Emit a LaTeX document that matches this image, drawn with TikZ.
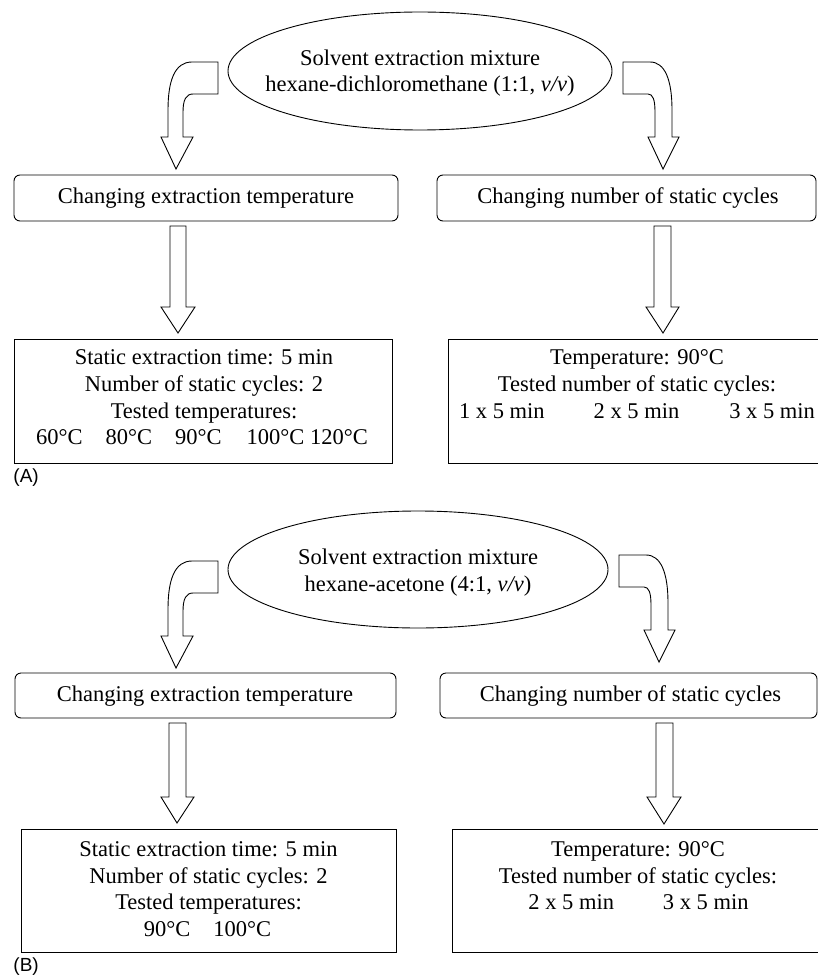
\documentclass[tikz,border=0pt]{standalone}
\usepackage{fontspec}
\setmainfont{Liberation Serif}
\newfontfamily\labelfont{Liberation Sans}
\usetikzlibrary{shapes.geometric}
\begin{document}
\begin{tikzpicture}[x=1pt,y=-1pt,line width=0.9pt,
  every node/.style={font=\fontsize{22.5}{26.7}\selectfont,inner sep=0pt},
  ell/.style={ellipse,draw,align=center},
  rbox/.style={draw,rounded corners=6pt},
  sbox/.style={draw},
  txtline/.style={anchor=base},
  panel/.style={anchor=base west,font=\labelfont\fontsize{19}{22}\selectfont},
  barrow/.style={draw,line join=miter,fill=white}]
\useasboundingbox (0,0) rectangle (817,976);

% ---------------- Panel A ----------------
\node[ell,minimum width=384,minimum height=118] (ea) at (420,71) {};
\node[txtline] (ea1) at (420,66) {Solvent extraction mixture};
\node[txtline] (ea2) at (420,92) {hexane-dichloromethane (1:1, \textit{v/v})};

% curved arrows
\draw[barrow] (218,62) -- (192,62) .. controls (175,62) and (168,80) .. (168,110) -- (168,137)
  -- (161,137) -- (176,169) -- (193,137) -- (183,137) -- (183,112)
  .. controls (183,100) and (186,94) .. (193,94) -- (218,94) -- cycle;
\draw[barrow] (623,62) -- (650,62) .. controls (665,62) and (672,80) .. (672,110) -- (672,137)
  -- (679,137) -- (663,169) -- (648,137) -- (655,137) -- (655,112)
  .. controls (655,100) and (653,94) .. (648,94) -- (623,94) -- cycle;

\node[rbox,minimum width=384,minimum height=46] (ca) at (206,198) {};
\node[txtline] (ca1) at (206,204) {Changing extraction temperature};
\node[rbox,minimum width=379,minimum height=46] (na) at (626.5,198) {};
\node[txtline] (na1) at (628,204) {Changing number of static cycles};

% straight arrows
\draw[barrow] (170,226) -- (186,226) -- (186,307) -- (195,307) -- (178,333) -- (161,307) -- (170,307) -- cycle;
\draw[barrow] (654,226) -- (671,226) -- (671,307) -- (679,307) -- (663,333) -- (646,307) -- (654,307) -- cycle;

\node[sbox,minimum width=378,minimum height=124] (pa) at (203,401) {};
\node[txtline] (pa1) at (204,364) {Static extraction time: 5 min};
\node[txtline] (pa2) at (204,391) {Number of static cycles: 2};
\node[txtline] (pa3) at (204,418) {Tested temperatures:};
\node[txtline] (pa4) at (202,444) {60°C\hspace{23pt}80°C\hspace{23pt}90°C\hspace{25pt}100°C 120°C};

\node[sbox,minimum width=378,minimum height=124] (qa) at (637,401) {};
\node[txtline] (qa1) at (637,364) {Temperature: 90°C};
\node[txtline] (qa2) at (637,391) {Tested number of static cycles:};
\node[txtline] (qa3) at (637,418) {1 x 5 min\hspace{49pt}2 x 5 min\hspace{50pt}3 x 5 min};

\node[panel] (la) at (13,482) {(A)};

% ---------------- Panel B ----------------
\node[ell,minimum width=380,minimum height=117] (eb) at (418,569.5) {};
\node[txtline] (eb1) at (418,564) {Solvent extraction mixture};
\node[txtline] (eb2) at (418,591) {hexane-acetone (4:1, \textit{v/v})};

\begin{scope}[shift={(0,499)}]
\draw[barrow] (218,62) -- (192,62) .. controls (175,62) and (168,80) .. (168,110) -- (168,137)
  -- (161,137) -- (176,169) -- (193,137) -- (183,137) -- (183,112)
  .. controls (183,100) and (186,94) .. (193,94) -- (218,94) -- cycle;
\end{scope}
\begin{scope}[shift={(-4,493)}]
\draw[barrow] (623,62) -- (650,62) .. controls (665,62) and (672,80) .. (672,110) -- (672,137)
  -- (679,137) -- (663,169) -- (648,137) -- (655,137) -- (655,112)
  .. controls (655,100) and (653,94) .. (648,94) -- (623,94) -- cycle;
\end{scope}

\node[rbox,minimum width=381,minimum height=45] (cb) at (205.5,695.5) {};
\node[txtline] (cb1) at (205,701) {Changing extraction temperature};
\node[rbox,minimum width=377,minimum height=45] (nb) at (628.5,695.5) {};
\node[txtline] (nb1) at (630.5,701) {Changing number of static cycles};

\draw[barrow] (169,723) -- (186,723) -- (186,797) -- (194,797) -- (177,823) -- (161,797) -- (169,797) -- cycle;
\draw[barrow] (656,723) -- (673,723) -- (673,797) -- (681,797) -- (664,824) -- (647,797) -- (656,797) -- cycle;

\node[sbox,minimum width=375,minimum height=123] (pb) at (208.5,890.5) {};
\node[txtline] (pb1) at (208.5,856) {Static extraction time: 5 min};
\node[txtline] (pb2) at (208.5,883) {Number of static cycles: 2};
\node[txtline] (pb3) at (208.5,909) {Tested temperatures:};
\node[txtline] (pb4) at (207.5,936) {90°C\hspace{23pt}100°C};

\node[sbox,minimum width=372,minimum height=123] (qb) at (638,890.5) {};
\node[txtline] (qb1) at (638,856) {Temperature: 90°C};
\node[txtline] (qb2) at (638,883) {Tested number of static cycles:};
\node[txtline] (qb3) at (638.5,909) {2 x 5 min\hspace{49pt}3 x 5 min};

\node[panel] (lb) at (13,971) {(B)};
\end{tikzpicture}
\end{document}
